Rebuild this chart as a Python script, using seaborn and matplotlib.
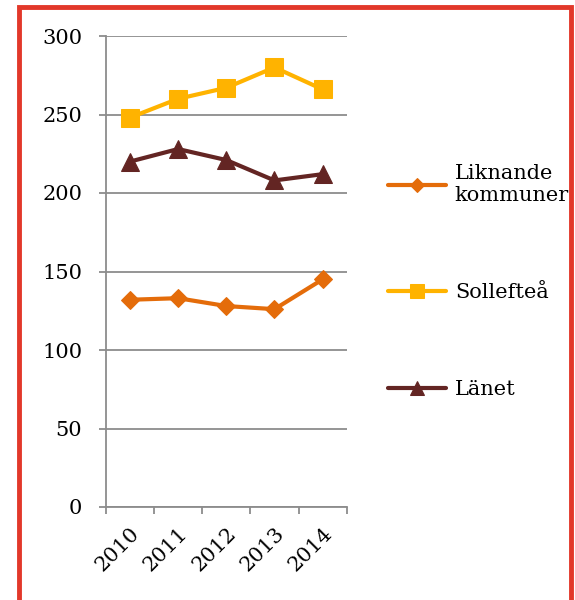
import matplotlib
matplotlib.use("Agg")
import matplotlib.pyplot as plt
from matplotlib.patches import Rectangle
import seaborn as sns

# data
years = ["2010", "2011", "2012", "2013", "2014"]
liknande = [132, 133, 128, 126, 145]
solleftea = [248, 260, 267, 280, 266]
lanet = [220, 228, 221, 208, 212]

series_names = ["Liknande\nkommuner", "Sollefteå", "Länet"]
series_colors = ["#E46C0A", "#FFB300", "#632523"]
series_markers = ["D", "s", "^"]
series_msize = [9, 13, 13]

sns.set_style("white")
plt.rcParams["font.family"] = ["DejaVu Serif", "DejaVu Sans"]
plt.rcParams["text.color"] = "black"
plt.rcParams["xtick.labelcolor"] = "black"
plt.rcParams["ytick.labelcolor"] = "black"

fig = plt.figure(figsize=(5.75, 6.0), dpi=100)
ax = fig.add_axes([0.184, 0.155, 0.419, 0.785])

for name, vals, col, mk, ms in zip(series_names, [liknande, solleftea, lanet],
                                    series_colors, series_markers, series_msize):
    sns.lineplot(x=years, y=vals, ax=ax, color=col, marker=mk, markersize=ms,
                 markeredgecolor=col, linewidth=3, label=name, sort=False)

ax.set_ylim(0, 300)
ax.set_yticks(range(0, 301, 50))
ax.set_xlim(-0.5, 4.5)
ax.yaxis.grid(True, color="#8c8c8c", linewidth=1.3)
ax.set_axisbelow(True)
for s in ["top", "right"]:
    ax.spines[s].set_visible(False)
for s in ["left", "bottom"]:
    ax.spines[s].set_color("#8c8c8c")
    ax.spines[s].set_linewidth(1.3)

ax.tick_params(axis="y", length=5, width=1.3, color="#8c8c8c", pad=12,
               labelsize=15, left=True)
ax.set_xticks(range(len(years)))
ax.set_xticklabels(years, rotation=45, ha="right", rotation_mode="anchor")
ax.tick_params(axis="x", which="major", length=0, pad=12, labelsize=15)
ax.set_xticks([i - 0.5 for i in range(len(years) + 1)], minor=True)
ax.tick_params(axis="x", which="minor", length=5, width=1.3,
               color="#8c8c8c", bottom=True)
ax.set_xlabel("")
ax.set_ylabel("")

ax.legend(loc="upper left", bbox_to_anchor=(0.675, 0.727),
          bbox_transform=fig.transFigure, frameon=False, fontsize=15,
          borderpad=0, borderaxespad=0, handlelength=2.8, handletextpad=0.4,
          labelspacing=3.75, markerscale=0.75)

# red frame round the figure (bottom edge falls outside)
fig.add_artist(Rectangle((0.033, -0.1), 0.96, 1.088, transform=fig.transFigure,
                         fill=False, edgecolor="#E2382A", linewidth=3.5,
                         clip_on=False))

fig.savefig("out.png", dpi=100)
